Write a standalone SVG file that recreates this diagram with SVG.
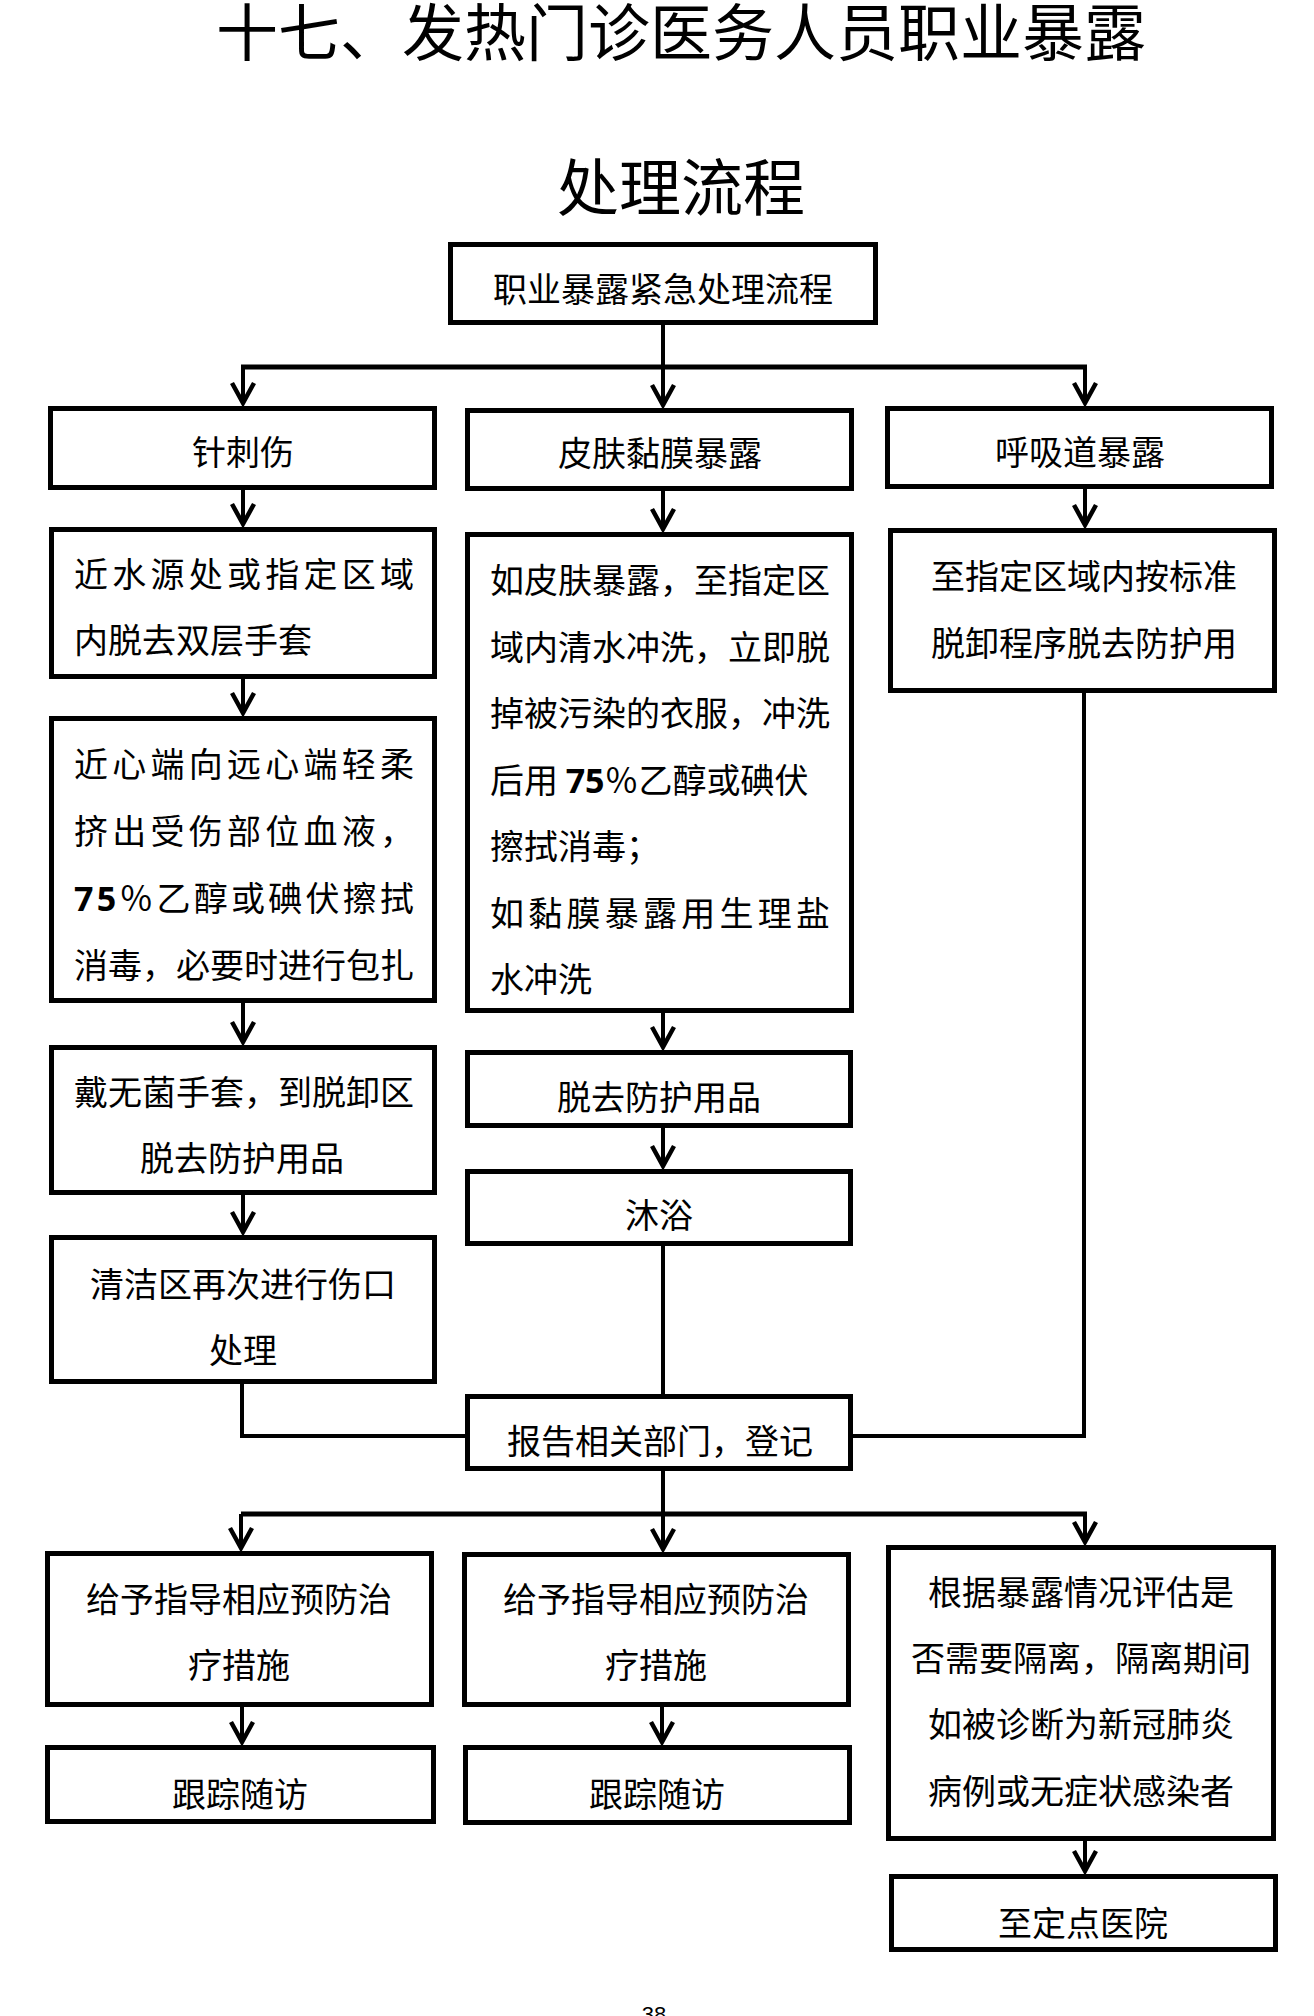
<svg xmlns="http://www.w3.org/2000/svg" width="1314" height="2016" viewBox="0 0 1314 2016">
<style>
.bg{fill:#fff}
.box{fill:#fff;stroke:#000;stroke-width:5}
.t{font-family:"Noto Sans CJK SC","Noto Sans CJK JP",sans-serif;font-size:34px;fill:#000}
.c{text-anchor:middle}
.title{font-family:"Noto Sans CJK SC","Noto Sans CJK JP",sans-serif;font-size:62px;fill:#000;text-anchor:middle}
.num{font-family:"Noto Sans","Open Sans",sans-serif;font-weight:bold}
.conn{fill:none;stroke:#000;stroke-width:4}
.bar{stroke-width:5}
.arr{marker-end:url(#ah)}
.pg{font-family:"Liberation Sans",Arial,sans-serif;font-size:22px;text-anchor:middle;fill:#000}
</style>
<defs>
<marker id="ah" markerUnits="userSpaceOnUse" viewBox="-26 -14 30 28" markerWidth="30" markerHeight="28" refX="0" refY="0" orient="auto">
<path d="M-20,-11 L0,0 L-20,11" fill="none" stroke="#000" stroke-width="4.5"/>
</marker>
</defs>
<rect class="bg" x="0" y="0" width="1314" height="2016"/>
<g id="title">
<text class="title" x="681" y="56">十七、发热门诊医务人员职业暴露</text>
<text class="title" x="681" y="211">处理流程</text>
</g>
<g id="connectors">
<path class="conn" d="M663,325 V367"/>
<path class="conn bar" d="M241,367 H1087"/>
<path class="conn arr" d="M243,367 V403"/>
<path class="conn arr" d="M663,367 V405"/>
<path class="conn arr" d="M1085,367 V403"/>
<path class="conn arr" d="M243,490 V524"/>
<path class="conn arr" d="M243,679 V713"/>
<path class="conn arr" d="M243,1003 V1042"/>
<path class="conn arr" d="M243,1195 V1232"/>
<path class="conn arr" d="M663,491 V529"/>
<path class="conn arr" d="M663,1013 V1047"/>
<path class="conn arr" d="M663,1128 V1166"/>
<path class="conn arr" d="M1085,489 V525"/>
<path class="conn" d="M663,1246 V1394"/>
<path class="conn" d="M242,1384 V1436 H465"/>
<path class="conn" d="M1084,693 V1436 H853"/>
<path class="conn" d="M663,1471 V1514"/>
<path class="conn bar" d="M241,1514 H1087"/>
<path class="conn arr" d="M241,1514 V1548"/>
<path class="conn arr" d="M663,1514 V1549"/>
<path class="conn arr" d="M1085,1514 V1542"/>
<path class="conn arr" d="M242,1707 V1742"/>
<path class="conn arr" d="M662,1707 V1742"/>
<path class="conn arr" d="M1085,1841 V1871"/>
</g>
<g id="n0">
<rect class="box" x="450.5" y="244.5" width="425" height="78"/>
<text class="t c" x="663" y="302">职业暴露紧急处理流程</text>
</g>
<g id="a1">
<rect class="box" x="50.5" y="408.5" width="384" height="79"/>
<text class="t c" x="243" y="465">针刺伤</text>
</g>
<g id="b1">
<rect class="box" x="467.5" y="410.5" width="384" height="78"/>
<text class="t c" x="660" y="466">皮肤黏膜暴露</text>
</g>
<g id="c1">
<rect class="box" x="887.5" y="408.5" width="384" height="78"/>
<text class="t c" x="1080" y="465">呼吸道暴露</text>
</g>
<g id="a2">
<rect class="box" x="51.5" y="529.5" width="383" height="147"/>
<text class="t" x="74" y="587" textLength="340" lengthAdjust="spacing">近水源处或指定区域</text>
<text class="t" x="74" y="653">内脱去双层手套</text>
</g>
<g id="b2">
<rect class="box" x="467.5" y="534.5" width="384" height="476"/>
<text class="t" x="490" y="593">如皮肤暴露，至指定区</text>
<text class="t" x="490" y="660">域内清水冲洗，立即脱</text>
<text class="t" x="490" y="726">掉被污染的衣服，冲洗</text>
<text class="t" x="490" y="793">后用 <tspan class="num">75</tspan>％乙醇或碘伏</text>
<text class="t" x="490" y="859">擦拭消毒；</text>
<text class="t" x="490" y="926" textLength="340" lengthAdjust="spacing">如黏膜暴露用生理盐</text>
<text class="t" x="490" y="992">水冲洗</text>
</g>
<g id="c2">
<rect class="box" x="890.5" y="530.5" width="384" height="160"/>
<text class="t c" x="1084" y="589">至指定区域内按标准</text>
<text class="t c" x="1084" y="656">脱卸程序脱去防护用</text>
</g>
<g id="a3">
<rect class="box" x="51.5" y="718.5" width="383" height="282"/>
<text class="t" x="74" y="777" textLength="340" lengthAdjust="spacing">近心端向远心端轻柔</text>
<text class="t" x="74" y="844" textLength="340" lengthAdjust="spacing">挤出受伤部位血液，</text>
<text class="t" x="74" y="911" textLength="340" lengthAdjust="spacing"><tspan class="num">75</tspan>％乙醇或碘伏擦拭</text>
<text class="t" x="74" y="978">消毒，必要时进行包扎</text>
</g>
<g id="a4">
<rect class="box" x="51.5" y="1047.5" width="383" height="145"/>
<text class="t" x="74" y="1105">戴无菌手套，到脱卸区</text>
<text class="t c" x="242" y="1171">脱去防护用品</text>
</g>
<g id="a5">
<rect class="box" x="51.5" y="1237.5" width="383" height="144"/>
<text class="t c" x="243" y="1297">清洁区再次进行伤口</text>
<text class="t c" x="243" y="1363">处理</text>
</g>
<g id="b3">
<rect class="box" x="467.5" y="1052.5" width="383" height="73"/>
<text class="t c" x="659" y="1110">脱去防护用品</text>
</g>
<g id="b4">
<rect class="box" x="467.5" y="1171.5" width="383" height="72"/>
<text class="t c" x="659" y="1228">沐浴</text>
</g>
<g id="r">
<rect class="box" x="467.5" y="1396.5" width="383" height="72"/>
<text class="t c" x="660" y="1454">报告相关部门，登记</text>
</g>
<g id="d1">
<rect class="box" x="47.5" y="1553.5" width="384" height="151"/>
<text class="t c" x="239" y="1612">给予指导相应预防治</text>
<text class="t c" x="239" y="1678">疗措施</text>
</g>
<g id="d2">
<rect class="box" x="47.5" y="1747.5" width="386" height="74"/>
<text class="t c" x="240" y="1807">跟踪随访</text>
</g>
<g id="e1">
<rect class="box" x="464.5" y="1554.5" width="384" height="150"/>
<text class="t c" x="656" y="1612">给予指导相应预防治</text>
<text class="t c" x="656" y="1678">疗措施</text>
</g>
<g id="e2">
<rect class="box" x="465.5" y="1747.5" width="384" height="75"/>
<text class="t c" x="657" y="1807">跟踪随访</text>
</g>
<g id="f1">
<rect class="box" x="888.5" y="1547.5" width="385" height="291"/>
<text class="t c" x="1081" y="1605">根据暴露情况评估是</text>
<text class="t c" x="1081" y="1671">否需要隔离，隔离期间</text>
<text class="t c" x="1081" y="1737">如被诊断为新冠肺炎</text>
<text class="t c" x="1081" y="1804">病例或无症状感染者</text>
</g>
<g id="f2">
<rect class="box" x="891.5" y="1876.5" width="384" height="73"/>
<text class="t c" x="1083" y="1936">至定点医院</text>
</g>
<text class="pg" x="654" y="2022">38</text>
</svg>
